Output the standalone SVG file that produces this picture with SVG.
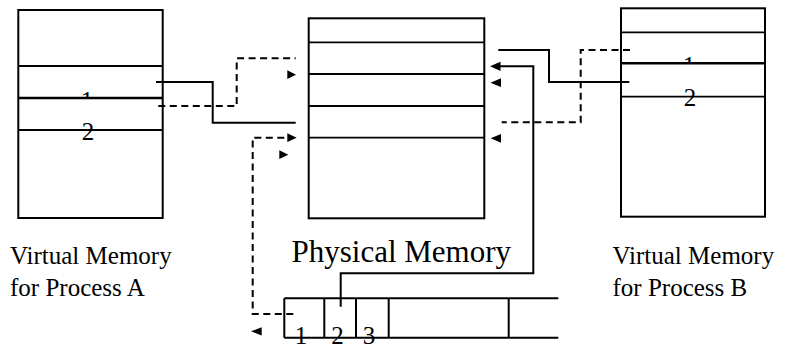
<svg xmlns="http://www.w3.org/2000/svg" width="785" height="344" viewBox="0 0 785 344">
<style>
.box{fill:#fff;stroke:#000;stroke-width:2}
.ln{stroke:#000;stroke-width:1.8;fill:none}
.thk{stroke:#000;stroke-width:2.4;fill:none}
.solid{stroke:#000;stroke-width:2;fill:none}
.dash{stroke:#000;stroke-width:2;fill:none;stroke-dasharray:7,4.5}
.ah{fill:#000}
text{font-family:"Liberation Serif","Times New Roman",serif;fill:#000}
.lbl{font-size:25px}
.big{font-size:31px}
</style>
<defs>
<clipPath id="clipA"><rect x="0" y="0" width="300" height="98"/></clipPath>
<clipPath id="clipB"><rect x="600" y="0" width="185" height="63.3"/></clipPath>
</defs>
<g id="vmA">
<rect class="box" x="18.3" y="10" width="144.4" height="208"/>
<line class="ln" x1="18.3" y1="66" x2="162.7" y2="66"/>
<line class="thk" x1="18.3" y1="98" x2="162.7" y2="98"/>
<line class="ln" x1="18.3" y1="130" x2="162.7" y2="130"/>
<text class="lbl" x="87" y="108.5" text-anchor="middle" clip-path="url(#clipA)">1</text>
<text class="lbl" x="88" y="140" text-anchor="middle">2</text>
</g>
<g id="pm">
<rect class="box" x="308.7" y="18.3" width="175.6" height="200"/>
<line class="ln" x1="308.7" y1="42.3" x2="484.3" y2="42.3"/>
<line class="ln" x1="308.7" y1="74" x2="484.3" y2="74"/>
<line class="ln" x1="308.7" y1="106" x2="484.3" y2="106"/>
<line class="ln" x1="308.7" y1="137.7" x2="484.3" y2="137.7"/>
</g>
<g id="vmB">
<rect class="box" x="621" y="8.3" width="144" height="208.4"/>
<line class="ln" x1="621" y1="32.3" x2="765" y2="32.3"/>
<line class="thk" x1="621" y1="63.3" x2="765" y2="63.3"/>
<line class="ln" x1="621" y1="96.7" x2="765" y2="96.7"/>
<text class="lbl" x="689" y="74" text-anchor="middle" clip-path="url(#clipB)">1</text>
<text class="lbl" x="690" y="106" text-anchor="middle">2</text>
</g>
<g id="table">
<line class="solid" x1="284.3" y1="298.3" x2="558.3" y2="298.3"/>
<line class="solid" x1="284.3" y1="337.7" x2="558.3" y2="337.7"/>
<line class="solid" x1="284.3" y1="298.3" x2="284.3" y2="337.7"/>
<line class="solid" x1="324.3" y1="298.3" x2="324.3" y2="337.7"/>
<line class="solid" x1="356" y1="298.3" x2="356" y2="337.7"/>
<line class="solid" x1="388.7" y1="298.3" x2="388.7" y2="337.7"/>
<line class="solid" x1="508.7" y1="298.3" x2="508.7" y2="337.7"/>
<text class="lbl" x="301" y="344" text-anchor="middle">1</text>
<text class="lbl" x="337.5" y="344" text-anchor="middle">2</text>
<text class="lbl" x="369" y="344" text-anchor="middle">3</text>
</g>
<g id="labels">
<text class="lbl" x="10" y="263.5">Virtual Memory</text>
<text class="lbl" x="10" y="296">for Process A</text>
<text class="big" x="291.5" y="262">Physical Memory</text>
<text class="lbl" x="612.5" y="264">Virtual Memory</text>
<text class="lbl" x="612.5" y="296">for Process B</text>
</g>
<g id="connectors">
<path class="solid" d="M156,82 H212.7 V122.7 H295.7"/>
<path class="dash" d="M158.3,106 H236.7 V58.3 H295.7"/>
<path class="dash" d="M293.3,314 H252.7 V137.7 H288"/>
<path class="solid" d="M498.3,50 H549 V82 H629.3"/>
<path class="dash" d="M630,50 H580.7 V122.3 H501.7"/>
<path class="solid" d="M340.7,306.7 V273.3 H533.3 V66.3 H499"/>
<polygon class="ah" points="296.7,137.7 287.3,133.3 287.3,142.1"/>
<polygon class="ah" points="490,66.3 500.5,61.7 500.5,71"/>
<polygon class="ah" points="296,74.7 287.3,70.3 287.3,79.1"/>
<polygon class="ah" points="288.3,154.7 279.3,150.3 279.3,159.1"/>
<polygon class="ah" points="490.5,82.7 501,78.3 501,87.1"/>
<polygon class="ah" points="490.7,138.3 501,133.9 501,142.7"/>
<polygon class="ah" points="251,331.3 261.7,327.2 261.7,335.4"/>
</g>
</svg>
